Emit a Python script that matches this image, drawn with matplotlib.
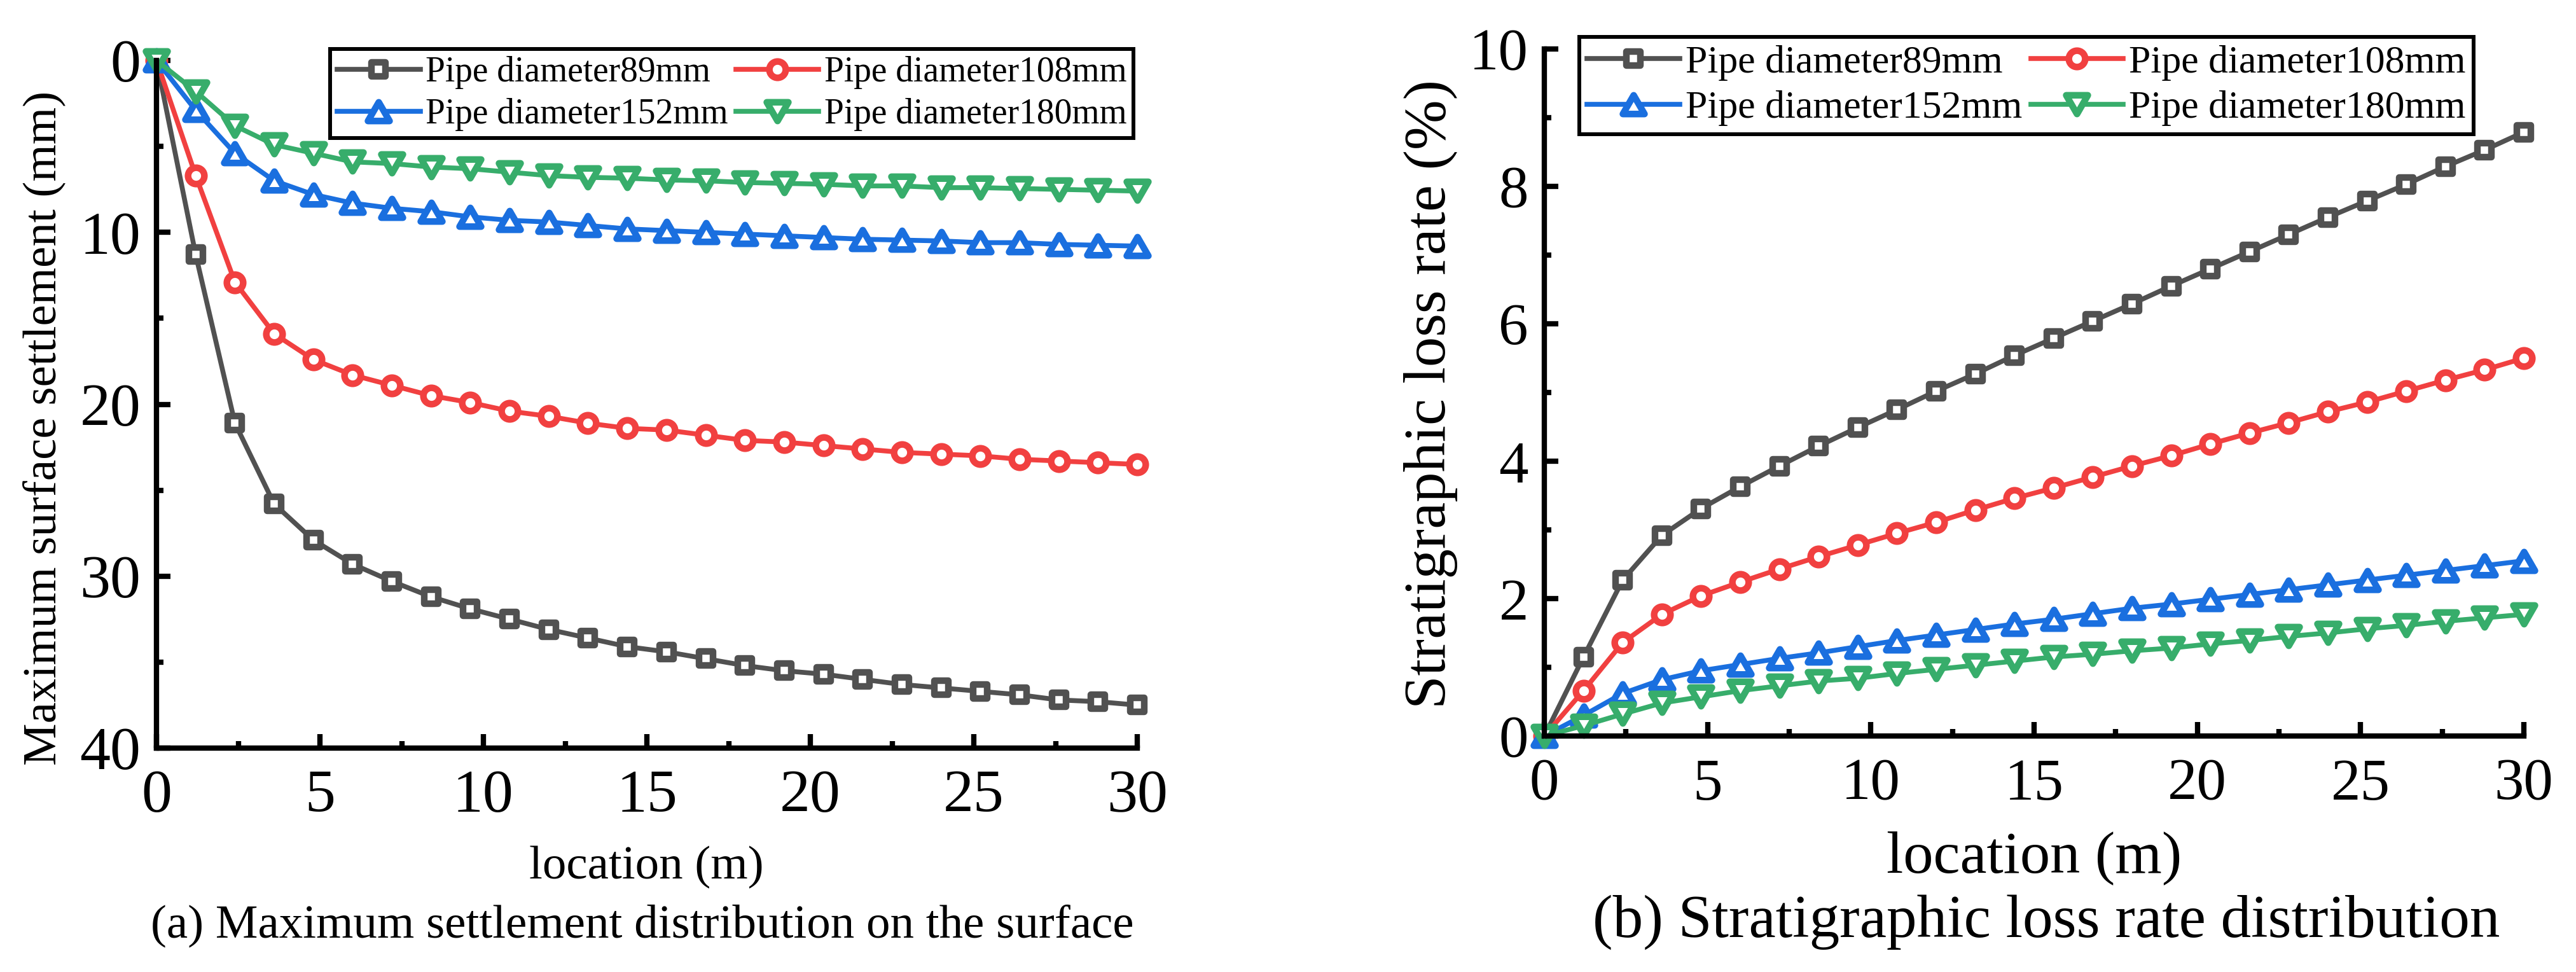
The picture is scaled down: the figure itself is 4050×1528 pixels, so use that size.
import matplotlib
matplotlib.use("Agg")
import matplotlib.pyplot as plt
from matplotlib.markers import MarkerStyle
from matplotlib.path import Path
from matplotlib.ticker import MultipleLocator

plt.rcParams["font.family"] = ["Liberation Serif", "DejaVu Serif"]

W, H = 4050, 1528

# distancia (m)
location = [0, 1.2, 2.4, 3.6, 4.8, 6.0, 7.2, 8.4, 9.6, 10.8, 12.0, 13.2, 14.4,
            15.6, 16.8, 18.0, 19.2, 20.4, 21.6, 22.8, 24.0, 25.2, 26.4, 27.6,
            28.8, 30.0]

labels = ["Pipe diameter89mm", "Pipe diameter108mm",
          "Pipe diameter152mm", "Pipe diameter180mm"]

# (a) recalque maximo na superficie (mm)
settle_89 = [0, 11.3, 21.1, 25.8, 27.9, 29.3, 30.3, 31.2, 31.9, 32.5, 33.1, 33.6,
             34.1, 34.4, 34.8, 35.2, 35.5, 35.7, 36.0, 36.3, 36.5, 36.7, 36.9,
             37.2, 37.3, 37.5]
settle_108 = [0, 6.7, 12.9, 15.9, 17.4, 18.3, 18.9, 19.5, 19.9, 20.4, 20.7, 21.1,
              21.4, 21.5, 21.8, 22.1, 22.2, 22.4, 22.6, 22.8, 22.9, 23.0, 23.2,
              23.3, 23.4, 23.5]
settle_152 = [0, 2.9, 5.4, 7.0, 7.8, 8.3, 8.6, 8.8, 9.1, 9.3, 9.4, 9.6, 9.8, 9.9,
              10.0, 10.1, 10.2, 10.3, 10.4, 10.45, 10.5, 10.6, 10.6, 10.7, 10.75,
              10.8]
settle_180 = [0, 1.8, 3.8, 4.9, 5.4, 5.9, 6.0, 6.2, 6.3, 6.5, 6.7, 6.8, 6.85, 6.95,
              7.0, 7.1, 7.15, 7.2, 7.3, 7.3, 7.4, 7.4, 7.45, 7.5, 7.55, 7.6]

# (b) taxa de perda estratigrafica (%)
loss_89 = [0, 1.15, 2.27, 2.92, 3.31, 3.63, 3.93, 4.22, 4.49, 4.75, 5.02, 5.27,
           5.54, 5.79, 6.04, 6.29, 6.55, 6.8, 7.05, 7.3, 7.55, 7.79, 8.03, 8.29,
           8.53, 8.79]
loss_108 = [0, 0.66, 1.36, 1.77, 2.04, 2.24, 2.43, 2.61, 2.78, 2.95, 3.11, 3.29,
            3.46, 3.61, 3.77, 3.93, 4.08, 4.25, 4.41, 4.56, 4.72, 4.86, 5.02,
            5.18, 5.33, 5.5]
loss_152 = [0, 0.3, 0.62, 0.82, 0.95, 1.04, 1.13, 1.21, 1.3, 1.39, 1.47, 1.55,
            1.63, 1.7, 1.78, 1.86, 1.92, 1.99, 2.06, 2.13, 2.2, 2.27, 2.34, 2.41,
            2.48, 2.55]
loss_180 = [0, 0.15, 0.32, 0.48, 0.57, 0.66, 0.73, 0.8, 0.84, 0.91, 0.97, 1.03,
            1.09, 1.15, 1.19, 1.24, 1.28, 1.34, 1.39, 1.45, 1.5, 1.56, 1.61,
            1.67, 1.72, 1.77]

colors = ["#515151", "#F14040", "#1A6FDF", "#37AD6B"]

# marcadores no estilo do Origin (cantos arredondados)
tri_up = Path([(-1, -0.866), (1, -0.866), (0, 0.866), (-1, -0.866)], closed=True)
tri_dn = Path([(-1, 0.866), (1, 0.866), (0, -0.866), (-1, 0.866)], closed=True)
markers = [MarkerStyle("s", joinstyle="round"), MarkerStyle("o", joinstyle="round"),
           MarkerStyle(tri_up, joinstyle="round"), MarkerStyle(tri_dn, joinstyle="round")]
msizes = [16, 18.5, 24.5, 24.5]


def px_rect(x0, y0, x1, y1):
    return [x0 / W, 1 - y1 / H, (x1 - x0) / W, (y1 - y0) / H]


def style_axes(ax, xpad, ypad, tick_size):
    for side in ["top", "right"]:
        ax.spines[side].set_visible(False)
    for side in ["left", "bottom"]:
        ax.spines[side].set_linewidth(6)
    ax.tick_params(which="both", direction="in", top=False, right=False, width=6)
    ax.tick_params(which="major", length=16, labelsize=tick_size)
    ax.tick_params(which="minor", length=8)
    ax.tick_params(axis="x", pad=xpad)
    ax.tick_params(axis="y", pad=ypad)


def draw_series(ax, series):
    handles = []
    for ys, c, m, ms, lab in zip(series, colors, markers, msizes, labels):
        (h,) = ax.plot(location, ys, color=c, lw=5.5, marker=m, ms=ms, mew=7.5,
                       mfc="white", mec=c, label=lab, clip_on=False)
        handles.append(h)
    return handles


def add_legend(ax, handles, x0, y0, size):
    order = [0, 2, 1, 3]
    leg = ax.legend([handles[i] for i in order], [labels[i] for i in order],
                    ncol=2, loc="upper left",
                    bbox_to_anchor=(x0 / W, 1 - y0 / H),
                    bbox_transform=fig.transFigure, borderaxespad=0,
                    fontsize=size, fancybox=False, framealpha=1, edgecolor="black",
                    handlelength=2.35, handletextpad=0.15, columnspacing=0.22,
                    labelspacing=0.25, borderpad=0.2, numpoints=1)
    leg.get_frame().set_linewidth(4.3)
    return leg


fig = plt.figure(figsize=(W / 100, H / 100), dpi=100)

# (a)
ax1 = fig.add_axes(px_rect(246, 95, 1788, 1176))
h1 = draw_series(ax1, [settle_89, settle_108, settle_152, settle_180])
ax1.set_xlim(0, 30)
ax1.set_ylim(40, 0)
ax1.xaxis.set_major_locator(MultipleLocator(5))
ax1.xaxis.set_minor_locator(MultipleLocator(2.5))
ax1.yaxis.set_major_locator(MultipleLocator(10))
ax1.yaxis.set_minor_locator(MultipleLocator(5))
style_axes(ax1, 24, 18, 69)
add_legend(ax1, h1, 519, 77, 40)

fig.text(69 / W, 1 - 673 / H, "Maximum surface settlement (mm)", rotation=90,
         ha="center", va="center", fontsize=54)
fig.text(1016 / W, 1 - 1381 / H, "location (m)", ha="center", va="baseline",
         fontsize=54)
fig.text(1010 / W, 1 - 1473 / H, "(a) Maximum settlement distribution on the surface",
         ha="center", va="baseline", fontsize=54)

# (b)
ax2 = fig.add_axes(px_rect(2428, 77, 3968, 1157))
h2 = draw_series(ax2, [loss_89, loss_108, loss_152, loss_180])
ax2.set_xlim(0, 30)
ax2.set_ylim(0, 10)
ax2.xaxis.set_major_locator(MultipleLocator(5))
ax2.xaxis.set_minor_locator(MultipleLocator(2.5))
ax2.yaxis.set_major_locator(MultipleLocator(2))
ax2.yaxis.set_minor_locator(MultipleLocator(1))
style_axes(ax2, 25, 18, 67)
add_legend(ax2, h2, 2483, 58, 44.5)

fig.text(2250 / W, 1 - 620 / H, "Stratigraphic loss rate (%)", rotation=90,
         ha="center", va="center", fontsize=68)
fig.text(3198 / W, 1 - 1371 / H, "location (m)", ha="center", va="baseline",
         fontsize=68)
fig.text(3217 / W, 1 - 1473 / H, "(b) Stratigraphic loss rate distribution",
         ha="center", va="baseline", fontsize=68.5)

fig.savefig("out.png", dpi=100)
plt.close(fig)
